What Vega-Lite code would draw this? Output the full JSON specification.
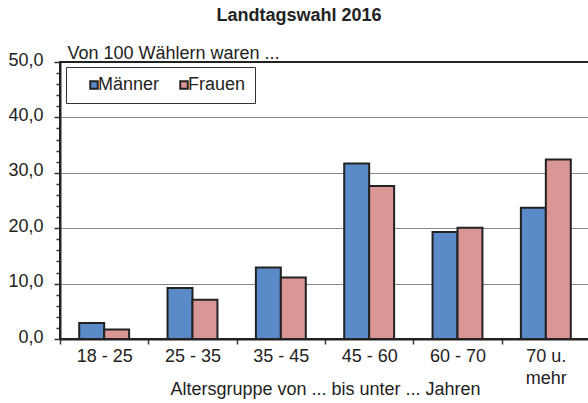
{
  "$schema": "https://vega.github.io/schema/vega-lite/v6.json",
  "width": 530,
  "height": 277,
  "autosize": {"type": "none"},
  "padding": {"left": 60, "top": 62, "right": 0, "bottom": 64},
  "background": "white",
  "config": {
    "font": "Liberation Sans",
    "view": {"stroke": "#222", "strokeWidth": 2}
  },
  "title": {
    "text": "Landtagswahl 2016",
    "fontSize": 18,
    "fontWeight": "bold",
    "color": "#222",
    "anchor": "middle",
    "dx": -26,
    "offset": 19
  },
  "data": {
    "values": [
      {"group": "18 - 25", "sex": "Männer", "value": 2.9},
      {"group": "18 - 25", "sex": "Frauen", "value": 1.7},
      {"group": "25 - 35", "sex": "Männer", "value": 9.2},
      {"group": "25 - 35", "sex": "Frauen", "value": 7.1},
      {"group": "35 - 45", "sex": "Männer", "value": 12.9},
      {"group": "35 - 45", "sex": "Frauen", "value": 11.1},
      {"group": "45 - 60", "sex": "Männer", "value": 31.7},
      {"group": "45 - 60", "sex": "Frauen", "value": 27.6},
      {"group": "60 - 70", "sex": "Männer", "value": 19.3},
      {"group": "60 - 70", "sex": "Frauen", "value": 20.1},
      {"group": "70 u. mehr", "sex": "Männer", "value": 23.7},
      {"group": "70 u. mehr", "sex": "Frauen", "value": 32.4}
    ]
  },
  "mark": {"type": "bar", "stroke": "#222", "strokeWidth": 2},
  "encoding": {
    "x": {
      "field": "group",
      "type": "nominal",
      "sort": null,
      "scale": {"paddingInner": 0, "paddingOuter": 0},
      "axis": {
        "title": "Altersgruppe von ... bis unter ... Jahren",
        "titleFontSize": 18,
        "titleFontWeight": "normal",
        "titleColor": "#222",
        "titleBaseline": "alphabetic",
        "titleY": 55,
        "labelAngle": 0,
        "labelFontSize": 18,
        "labelColor": "#222",
        "labelPadding": 3,
        "labelLineHeight": 22,
        "labelExpr": "datum.label == '70 u. mehr' ? ['70 u.', 'mehr'] : datum.label",
        "tickBand": "extent",
        "tickSize": 5,
        "tickColor": "#333",
        "tickWidth": 1.5,
        "domainColor": "#222",
        "domainWidth": 2,
        "grid": false
      }
    },
    "xOffset": {
      "field": "sex",
      "sort": ["Männer", "Frauen"],
      "scale": {"paddingInner": 0, "paddingOuter": 0.77}
    },
    "y": {
      "field": "value",
      "type": "quantitative",
      "scale": {"domain": [0, 50], "nice": false},
      "axis": {
        "title": "Von 100 Wählern waren ...",
        "titleAngle": 0,
        "titleAlign": "left",
        "titleBaseline": "alphabetic",
        "titleX": 7,
        "titleY": -4,
        "titleFontSize": 18,
        "titleFontWeight": "normal",
        "titleColor": "#222",
        "values": [0, 2, 4, 6, 8, 10, 12, 14, 16, 18, 20, 22, 24, 26, 28, 30, 32, 34, 36, 38, 40, 42, 44, 46, 48, 50],
        "labelExpr": "datum.value % 10 == 0 ? replace(format(datum.value, '.1f'), '.', ',') : ''",
        "labelFontSize": 18,
        "labelColor": "#222",
        "labelPadding": 11,
        "labelOffset": -2,
        "tickSize": {"condition": {"test": "datum.value % 10 == 0", "value": 6}, "value": 4},
        "tickColor": "#333",
        "tickWidth": 1.5,
        "domainColor": "#222",
        "domainWidth": 2,
        "grid": true,
        "gridColor": "#888",
        "gridWidth": 1.2,
        "gridOpacity": {"condition": {"test": "datum.value % 10 == 0 && datum.value > 0 && datum.value < 50", "value": 1}, "value": 0}
      }
    },
    "color": {
      "field": "sex",
      "type": "nominal",
      "sort": ["Männer", "Frauen"],
      "scale": {"domain": ["Männer", "Frauen"], "range": ["#5A8AC8", "#D99694"]},
      "legend": {
        "title": null,
        "orient": "none",
        "direction": "horizontal",
        "legendX": 6,
        "legendY": 5,
        "symbolType": "square",
        "symbolSize": 56,
        "symbolStrokeColor": "#222",
        "symbolStrokeWidth": 2,
        "symbolOpacity": 1,
        "labelFontSize": 18,
        "labelColor": "#222",
        "labelOffset": -5,
        "columnPadding": 5,
        "padding": 9,
        "strokeColor": "#333",
        "fillColor": "white",
        "symbolOffset": 10
      }
    }
  }
}
